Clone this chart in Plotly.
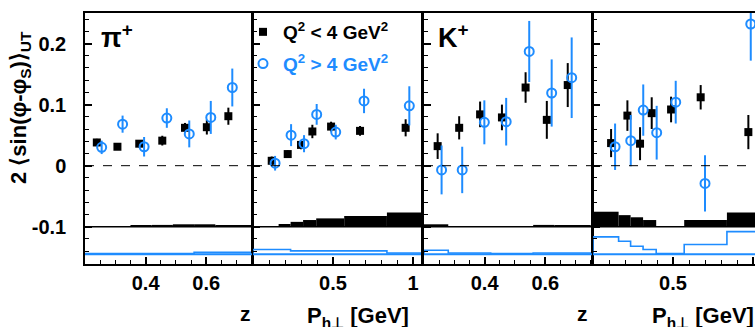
import plotly.graph_objects as go

BLUE = "#1e8cff"
FONT = "Liberation Sans"

# ---------------- data ----------------
# pi+ vs z
pip_z_lo_x = [0.239, 0.307, 0.379, 0.455, 0.530, 0.602, 0.673]
pip_z_lo_y = [0.038, 0.031, 0.036, 0.041, 0.062, 0.063, 0.081]
pip_z_lo_e = [0.006, 0.005, 0.006, 0.008, 0.008, 0.012, 0.014]
pip_z_hi_x = [0.255, 0.324, 0.395, 0.470, 0.544, 0.615, 0.686]
pip_z_hi_y = [0.030, 0.068, 0.031, 0.078, 0.052, 0.079, 0.128]
pip_z_hi_e = [0.011, 0.014, 0.016, 0.016, 0.022, 0.027, 0.031]

# pi+ vs Ph_perp
pip_pt_lo_x = [0.117, 0.217, 0.300, 0.371, 0.488, 0.669, 0.954]
pip_pt_lo_y = [0.008, 0.019, 0.034, 0.056, 0.064, 0.057, 0.062]
pip_pt_lo_e = [0.007, 0.006, 0.007, 0.011, 0.008, 0.008, 0.014]
pip_pt_hi_x = [0.138, 0.238, 0.319, 0.398, 0.517, 0.694, 0.977]
pip_pt_hi_y = [0.004, 0.050, 0.036, 0.084, 0.055, 0.106, 0.098]
pip_pt_hi_e = [0.012, 0.018, 0.014, 0.017, 0.012, 0.020, 0.032]

# K+ vs z
kp_z_lo_x = [0.245, 0.316, 0.385, 0.457, 0.535, 0.605, 0.674]
kp_z_lo_y = [0.032, 0.062, 0.084, 0.079, 0.128, 0.075, 0.132]
kp_z_lo_e = [0.021, 0.019, 0.021, 0.021, 0.025, 0.031, 0.036]
kp_z_hi_x = [0.258, 0.326, 0.399, 0.471, 0.547, 0.621, 0.687]
kp_z_hi_y = [-0.007, -0.007, 0.071, 0.072, 0.187, 0.119, 0.144]
kp_z_hi_e = [0.040, 0.038, 0.036, 0.039, 0.050, 0.055, 0.066]

# K+ vs Ph_perp
kp_pt_lo_x = [0.113, 0.215, 0.294, 0.367, 0.488, 0.673, 0.971]
kp_pt_lo_y = [0.037, 0.082, 0.036, 0.086, 0.092, 0.112, 0.055]
kp_pt_lo_e = [0.023, 0.025, 0.027, 0.026, 0.021, 0.020, 0.028]
kp_pt_hi_x = [0.138, 0.236, 0.314, 0.398, 0.517, 0.700, 0.986]
kp_pt_hi_y = [0.031, 0.041, 0.091, 0.054, 0.104, -0.029, 0.232]
kp_pt_hi_e = [0.038, 0.042, 0.042, 0.044, 0.035, 0.046, 0.060]

# systematic-uncertainty bins
z_edges = [0.2, 0.28, 0.35, 0.42, 0.49, 0.56, 0.63, 0.75]
pt_edges = [0.0, 0.16, 0.235, 0.313, 0.395, 0.57, 0.837, 1.05]
pip_z_sys_lo = [0.001, 0.001, 0.002, 0.003, 0.004, 0.004, 0.003]
pip_z_sys_hi = [0.001, 0.001, 0.001, 0.001, 0.001, 0.003, 0.003]
pip_pt_sys_lo = [0.001, 0.0045, 0.008, 0.011, 0.0137, 0.0175, 0.0235]
pip_pt_sys_hi = [0.0077, 0.0077, 0.0055, 0.0055, 0.0055, 0.0055, 0.002]
kp_z_sys_lo = [0.004, 0.001, 0.001, 0.001, 0.001, 0.003, 0.003]
kp_z_sys_hi = [0.0066, 0.002, 0.002, 0.001, 0.001, 0.002, 0.002]
kp_pt_sys_lo = [0.0246, 0.019, 0.0155, 0.011, 0.001, 0.011, 0.0235]
kp_pt_sys_hi = [0.0284, 0.0213, 0.0131, 0.0077, 0.001, 0.0159, 0.037]

SYS_BASE_LO = -0.1
SYS_BASE_HI = -0.145

y_tickvals = [-0.1, 0, 0.1, 0.2]
y_ticktext = ["-0.1", "0", "0.1", "0.2"]
z_tickvals = [0.4, 0.6]
z_ticktext = ["0.4", "0.6"]
pt_tickvals = [0.5, 1.0]
pt_ticktext = ["0.5", "1"]

legend_lo = "Q<sup>2</sup> &lt; 4 GeV<sup>2</sup>"
legend_hi = "<span style='color:%s'>Q<sup>2</sup> &gt; 4 GeV<sup>2</sup></span>" % BLUE

# ---------------- layout geometry ----------------
W, H = 755, 327
panels = [
    dict(px=(85, 252), xr=[0.2, 0.751], kind="z", lo=(pip_z_lo_x, pip_z_lo_y, pip_z_lo_e),
         hi=(pip_z_hi_x, pip_z_hi_y, pip_z_hi_e), edges=z_edges, slo=pip_z_sys_lo, shi=pip_z_sys_hi),
    dict(px=(253, 421), xr=[0.0, 1.05], kind="pt", lo=(pip_pt_lo_x, pip_pt_lo_y, pip_pt_lo_e),
         hi=(pip_pt_hi_x, pip_pt_hi_y, pip_pt_hi_e), edges=pt_edges, slo=pip_pt_sys_lo, shi=pip_pt_sys_hi),
    dict(px=(424, 592), xr=[0.2, 0.754], kind="z", lo=(kp_z_lo_x, kp_z_lo_y, kp_z_lo_e),
         hi=(kp_z_hi_x, kp_z_hi_y, kp_z_hi_e), edges=z_edges, slo=kp_z_sys_lo, shi=kp_z_sys_hi),
    dict(px=(593, 755), xr=[0.0, 1.0125], kind="pt", lo=(kp_pt_lo_x, kp_pt_lo_y, kp_pt_lo_e),
         hi=(kp_pt_hi_x, kp_pt_hi_y, kp_pt_hi_e), edges=pt_edges, slo=kp_pt_sys_lo, shi=kp_pt_sys_hi),
]
y_top_px, y_bot_px = 13, 264
ydom = [1 - y_bot_px / H, 1 - y_top_px / H]
yrange = [-0.161, 0.25]

fig = go.Figure()
layout = dict(
    width=W, height=H, margin=dict(l=0, r=0, t=0, b=0),
    paper_bgcolor="white", plot_bgcolor="white",
    font=dict(family=FONT, size=19, color="black", weight="bold"),
    showlegend=True,
    legend=dict(x=243 / W, y=1 - 13 / H, xanchor="left", yanchor="top",
                bgcolor="rgba(0,0,0,0)", font=dict(size=19, family=FONT, weight="bold"),
                itemwidth=30, tracegroupgap=4),
    shapes=[], annotations=[],
)

for i, p in enumerate(panels):
    n = i + 1
    xa = "x" if n == 1 else "x%d" % n
    ya = "y" if n == 1 else "y%d" % n
    xkey = "xaxis" if n == 1 else "xaxis%d" % n
    ykey = "yaxis" if n == 1 else "yaxis%d" % n
    edges = p["edges"]
    centers = [(edges[k] + edges[k + 1]) / 2 for k in range(len(edges) - 1)]
    widths = [edges[k + 1] - edges[k] for k in range(len(edges) - 1)]

    # black systematic band
    fig.add_trace(go.Bar(x=centers, y=p["slo"], base=SYS_BASE_LO, width=widths,
                         marker=dict(color="black", line=dict(width=0)),
                         xaxis=xa, yaxis=ya, showlegend=False, hoverinfo="skip"))
    # blue systematic outline
    sx = [edges[0]] + list(edges) + [edges[-1]]
    sy = [SYS_BASE_HI] + [SYS_BASE_HI + s for s in p["shi"]] + [SYS_BASE_HI + p["shi"][-1], SYS_BASE_HI]
    fig.add_trace(go.Scatter(x=sx, y=sy, mode="lines", line=dict(color=BLUE, width=1.6, shape="hv"),
                             xaxis=xa, yaxis=ya, showlegend=False, hoverinfo="skip"))

    # baselines and zero line
    layout["shapes"].append(dict(type="line", xref="%s domain" % xa, yref=ya, x0=0, x1=1,
                                 y0=SYS_BASE_LO, y1=SYS_BASE_LO, line=dict(color="black", width=1.5)))
    layout["shapes"].append(dict(type="line", xref="%s domain" % xa, yref=ya, x0=0, x1=1,
                                 y0=SYS_BASE_HI, y1=SYS_BASE_HI, line=dict(color=BLUE, width=2)))
    layout["shapes"].append(dict(type="line", xref="%s domain" % xa, yref=ya, x0=0, x1=1,
                                 y0=0, y1=0, line=dict(color="black", width=1, dash="dash")))

    lx, ly, le = p["lo"]
    hx, hy, he = p["hi"]
    fig.add_trace(go.Scatter(x=lx, y=ly, mode="markers", name=legend_lo,
                             marker=dict(symbol="square", size=8, color="black"),
                             error_y=dict(type="data", array=le, color="black", thickness=2, width=0),
                             xaxis=xa, yaxis=ya, showlegend=(n == 1), legendgroup="lo"))
    fig.add_trace(go.Scatter(x=hx, y=hy, mode="markers", name=legend_hi,
                             marker=dict(symbol="circle-open", size=9, color=BLUE, line=dict(width=2, color=BLUE)),
                             error_y=dict(type="data", array=he, color=BLUE, thickness=2, width=0),
                             xaxis=xa, yaxis=ya, showlegend=(n == 1), legendgroup="hi"))

    x0, x1 = p["px"]
    is_z = p["kind"] == "z"
    layout[xkey] = dict(
        domain=[x0 / W, min(x1 / W, 1.0)], range=p["xr"], anchor=ya,
        showgrid=False, zeroline=False, showline=True, linecolor="black", linewidth=1.5,
        mirror=True, ticks="inside", ticklen=7, tickwidth=1.5, tickcolor="black",
        tickvals=z_tickvals if is_z else pt_tickvals,
        ticktext=z_ticktext if is_z else pt_ticktext,
        tickfont=dict(size=20, family=FONT, weight="bold"),
        minor=dict(ticks="inside", ticklen=4, tickwidth=1, tickcolor="black",
                   dtick=0.05 if is_z else 0.1, tick0=0, showgrid=False),
    )
    layout[ykey] = dict(
        domain=ydom, range=yrange, anchor=xa,
        showgrid=False, zeroline=False, showline=True, linecolor="black", linewidth=1.5,
        mirror=(n != 4), ticks="inside", ticklen=7, tickwidth=1.5, tickcolor="black",
        tickvals=y_tickvals, ticktext=y_ticktext, showticklabels=(n == 1),
        ticklabelstandoff=13,
        tickfont=dict(size=20, family=FONT, weight="bold"),
        minor=dict(ticks="inside", ticklen=4, tickwidth=1, tickcolor="black",
                   dtick=0.02, tick0=0, showgrid=False),
    )

# text annotations
ann = layout["annotations"]
ann.append(dict(text="2 ⟨sin(φ-φ<sub>S</sub>)⟩<sub>UT</sub>", xref="paper", yref="paper",
                x=20 / W, y=1 - 108 / H, textangle=-90, showarrow=False,
                xanchor="center", yanchor="middle",
                font=dict(size=22, family=FONT, weight="bold")))
ann.append(dict(text="π<sup>+</sup>", xref="paper", yref="paper", x=99 / W, y=1 - 17 / H,
                xanchor="left", yanchor="top", showarrow=False, font=dict(size=27, family=FONT, weight="bold")))
ann.append(dict(text="K<sup>+</sup>", xref="paper", yref="paper", x=436 / W, y=1 - 17 / H,
                xanchor="left", yanchor="top", showarrow=False, font=dict(size=27, family=FONT, weight="bold")))
for xc in (245, 582):
    ann.append(dict(text="z", xref="paper", yref="paper", x=xc / W, y=1 - 313 / H,
                    xanchor="center", yanchor="middle", showarrow=False,
                    font=dict(size=21, family=FONT, weight="bold")))
for xl in (305, 650):
    ann.append(dict(text="P<sub>h⊥</sub> [GeV]", xref="paper", yref="paper", x=xl / W, y=1 - 301 / H,
                    xanchor="left", yanchor="top", showarrow=False,
                    font=dict(size=22, family=FONT, weight="bold")))

fig.update_layout(**layout)
fig.write_html("out.html")
